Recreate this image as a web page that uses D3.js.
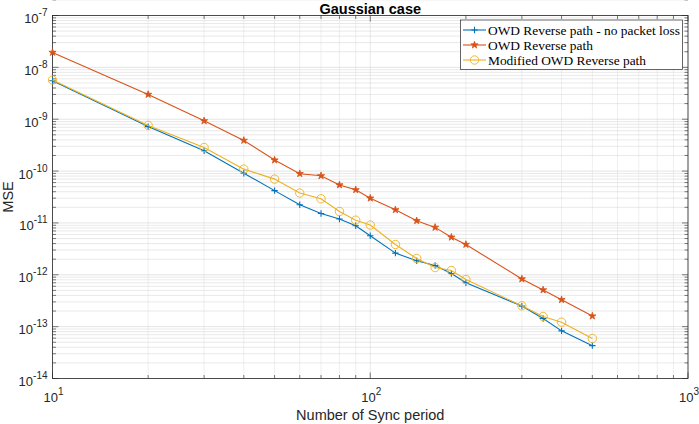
<!DOCTYPE html>
<html>
<head>
<meta charset="utf-8">
<script src="https://cdn.jsdelivr.net/npm/d3@7"></script>
<style>
  body { margin: 0; background: #fff; }
  svg { display: block; }
</style>
</head>
<body>
<div id="chart"></div>
<script>
// --- Data ---
const syncPeriods = [10, 20, 30, 40, 50, 60, 70, 80, 90, 100, 120, 140, 160, 180, 200, 300, 350, 400, 500];

const noLossMSE = [5.5e-9, 7.2e-10, 2.46e-10, 9.1e-11, 4.2e-11, 2.24e-11, 1.52e-11, 1.19e-11, 8.8e-12, 5.65e-12,
  2.62e-12, 1.86e-12, 1.51e-12, 1.06e-12, 7.0e-13, 2.49e-13, 1.44e-13, 8.3e-14, 4.3e-14];

const reverseMSE = [1.94e-8, 3.0e-9, 9.3e-10, 3.9e-10, 1.63e-10, 8.9e-11, 8.1e-11, 5.4e-11, 4.35e-11, 3.0e-11,
  1.79e-11, 1.10e-11, 8.2e-12, 5.3e-12, 3.84e-12, 8.3e-13, 5.1e-13, 3.3e-13, 1.6e-13];

const modifiedMSE = [5.7e-9, 7.6e-10, 2.85e-10, 1.09e-10, 7.0e-11, 3.76e-11, 2.92e-11, 1.66e-11, 1.13e-11, 9.1e-12,
  3.84e-12, 2.06e-12, 1.38e-12, 1.21e-12, 8.1e-13, 2.52e-13, 1.57e-13, 1.22e-13, 5.9e-14];

const seriesNames = ["OWD Reverse path - no packet loss", "OWD Reverse path", "Modified OWD Reverse path"];
const seriesColors = ["#0072BD", "#D95319", "#EDB120"];
const seriesMarkers = ["plus", "asterisk", "circle"];

const xTicks = [10, 100, 1000];
const yTicks = [1e-14, 1e-13, 1e-12, 1e-11, 1e-10, 1e-9, 1e-8, 1e-7];

// --- Layout ---
const W = 699, H = 424;
const margin = { top: 15.5, right: 11, bottom: 45.5, left: 52.5 };
const iw = W - margin.left - margin.right;
const ih = H - margin.top - margin.bottom;
const axisColor = "#262626";

const x = d3.scaleLog().domain([10, 1000]).range([0, iw]);
const y = d3.scaleLog().domain([1e-14, 1e-7]).range([ih, 0]);

const svg = d3.select("#chart").append("svg")
  .attr("width", W)
  .attr("height", H);

const g = svg.append("g")
  .attr("transform", "translate(" + margin.left + "," + margin.top + ")");

// minor tick positions in each decade
function minors(lo, hi) {
  const out = [];
  for (let d = lo; d < hi; d *= 10) {
    for (let k = 2; k <= 9; k++) out.push(d * k);
  }
  return out;
}
const xMinor = minors(10, 1000);
const yMinor = minors(1e-14, 1e-7);

// Grid: minor then major
const grid = g.append("g").attr("fill", "none");
grid.selectAll(".xm").data(xMinor).enter().append("line")
  .attr("x1", d => x(d)).attr("x2", d => x(d))
  .attr("y1", 0).attr("y2", ih)
  .attr("stroke", "#e2e2e2").attr("stroke-width", 0.6);
grid.selectAll(".ym").data(yMinor).enter().append("line")
  .attr("x1", 0).attr("x2", iw)
  .attr("y1", d => y(d)).attr("y2", d => y(d))
  .attr("stroke", "#dadada").attr("stroke-width", 0.6);
grid.selectAll(".xM").data(xTicks).enter().append("line")
  .attr("x1", d => x(d)).attr("x2", d => x(d))
  .attr("y1", 0).attr("y2", ih)
  .attr("stroke", "#d8d8d8").attr("stroke-width", 0.6);
grid.selectAll(".yM").data(yTicks).enter().append("line")
  .attr("x1", 0).attr("x2", iw)
  .attr("y1", d => y(d)).attr("y2", d => y(d))
  .attr("stroke", "#d2d2d2").attr("stroke-width", 0.6);

// Ticks (inward, all four sides)
const ticks = g.append("g").attr("stroke", axisColor).attr("stroke-width", 0.6);
function xTickMarks(data, len) {
  ticks.selectAll(null).data(data).enter().append("line")
    .attr("x1", d => x(d)).attr("x2", d => x(d)).attr("y1", ih).attr("y2", ih - len);
  ticks.selectAll(null).data(data).enter().append("line")
    .attr("x1", d => x(d)).attr("x2", d => x(d)).attr("y1", 0).attr("y2", len);
}
function yTickMarks(data, len) {
  ticks.selectAll(null).data(data).enter().append("line")
    .attr("y1", d => y(d)).attr("y2", d => y(d)).attr("x1", 0).attr("x2", len);
  ticks.selectAll(null).data(data).enter().append("line")
    .attr("y1", d => y(d)).attr("y2", d => y(d)).attr("x1", iw).attr("x2", iw - len);
}
xTickMarks(xTicks, 6);
xTickMarks(xMinor, 3.5);
yTickMarks(yTicks, 6);
yTickMarks(yMinor, 3.5);

// Box
g.append("rect")
  .attr("width", iw).attr("height", ih)
  .attr("fill", "none").attr("stroke", axisColor).attr("stroke-width", 0.8);

// Tick labels with superscript exponents
const tickFont = "Liberation Sans, Arial, sans-serif";
g.selectAll(".xl").data(xTicks).enter().append("text")
  .attr("x", d => x(d) + 1)
  .attr("y", ih + 23)
  .attr("text-anchor", "middle")
  .attr("font-family", tickFont)
  .attr("font-size", 13)
  .attr("fill", axisColor)
  .each(function (d) {
    const t = d3.select(this);
    t.append("tspan").text("10");
    t.append("tspan").attr("dy", -6.5).attr("font-size", 10).text(Math.round(Math.log10(d)));
  });

g.selectAll(".yl").data(yTicks).enter().append("text")
  .attr("x", -5)
  .attr("y", d => y(d) + 7.5)
  .attr("text-anchor", "end")
  .attr("font-family", tickFont)
  .attr("font-size", 13)
  .attr("fill", axisColor)
  .each(function (d) {
    const t = d3.select(this);
    t.append("tspan").text("10");
    t.append("tspan").attr("dy", -7).attr("font-size", 10).text(Math.round(Math.log10(d)));
  });

// Series
const series = [noLossMSE, reverseMSE, modifiedMSE].map((vals, i) => ({
  name: seriesNames[i],
  color: seriesColors[i],
  marker: seriesMarkers[i],
  points: syncPeriods.map((p, j) => ({ x: p, y: vals[j] }))
}));

const line = d3.line().x(d => x(d.x)).y(d => y(d.y));

function drawMarker(sel, type, color) {
  if (type === "circle") {
    sel.append("circle").attr("r", 4.2)
      .attr("fill", "none").attr("stroke", color).attr("stroke-width", 0.9);
  } else if (type === "plus") {
    sel.append("path").attr("d", "M-3.2,0H3.2M0,-3.2V3.2")
      .attr("stroke", color).attr("stroke-width", 1.1).attr("fill", "none");
  } else {
    sel.append("path").attr("d", d3.symbol(d3.symbolStar, 16)())
      .attr("fill", color).attr("stroke", color).attr("stroke-width", 0.8);
  }
}

const plot = g.append("g");
series.forEach(s => {
  plot.append("path")
    .datum(s.points)
    .attr("d", line)
    .attr("fill", "none")
    .attr("stroke", s.color)
    .attr("stroke-width", 1.1);
  plot.selectAll(null).data(s.points).enter().append("g")
    .attr("transform", d => "translate(" + x(d.x) + "," + y(d.y) + ")")
    .each(function () { drawMarker(d3.select(this), s.marker, s.color); });
});

// Legend
const leg = svg.append("g").attr("transform", "translate(460.5,20)");
leg.append("rect")
  .attr("width", 222).attr("height", 49.5)
  .attr("fill", "#fff").attr("stroke", axisColor).attr("stroke-width", 0.7);
series.forEach((s, i) => {
  const row = leg.append("g").attr("transform", "translate(0," + (10 + i * 15) + ")");
  row.append("line").attr("x1", 2.5).attr("x2", 25.5)
    .attr("stroke", s.color).attr("stroke-width", 1.1);
  const m = row.append("g").attr("transform", "translate(14,0)");
  drawMarker(m, s.marker, s.color);
  row.append("text")
    .attr("x", 27.5).attr("y", 4.5)
    .attr("font-family", "Liberation Serif, Times New Roman, serif")
    .attr("font-size", 13.4)
    .attr("fill", "#000")
    .text(s.name);
});

// Title and axis labels
svg.append("text")
  .attr("x", margin.left + iw / 2).attr("y", 13.5)
  .attr("text-anchor", "middle")
  .attr("font-family", tickFont).attr("font-weight", "bold")
  .attr("font-size", 14.5).attr("fill", "#000")
  .text("Gaussian case");

svg.append("text")
  .attr("x", margin.left + iw / 2).attr("y", 420)
  .attr("text-anchor", "middle")
  .attr("font-family", tickFont)
  .attr("font-size", 14.5).attr("fill", axisColor)
  .text("Number of Sync period");

svg.append("text")
  .attr("transform", "translate(13," + (margin.top + ih / 2) + ") rotate(-90)")
  .attr("text-anchor", "middle")
  .attr("font-family", tickFont)
  .attr("font-size", 14.5).attr("fill", axisColor)
  .text("MSE");
</script>
</body>
</html>
